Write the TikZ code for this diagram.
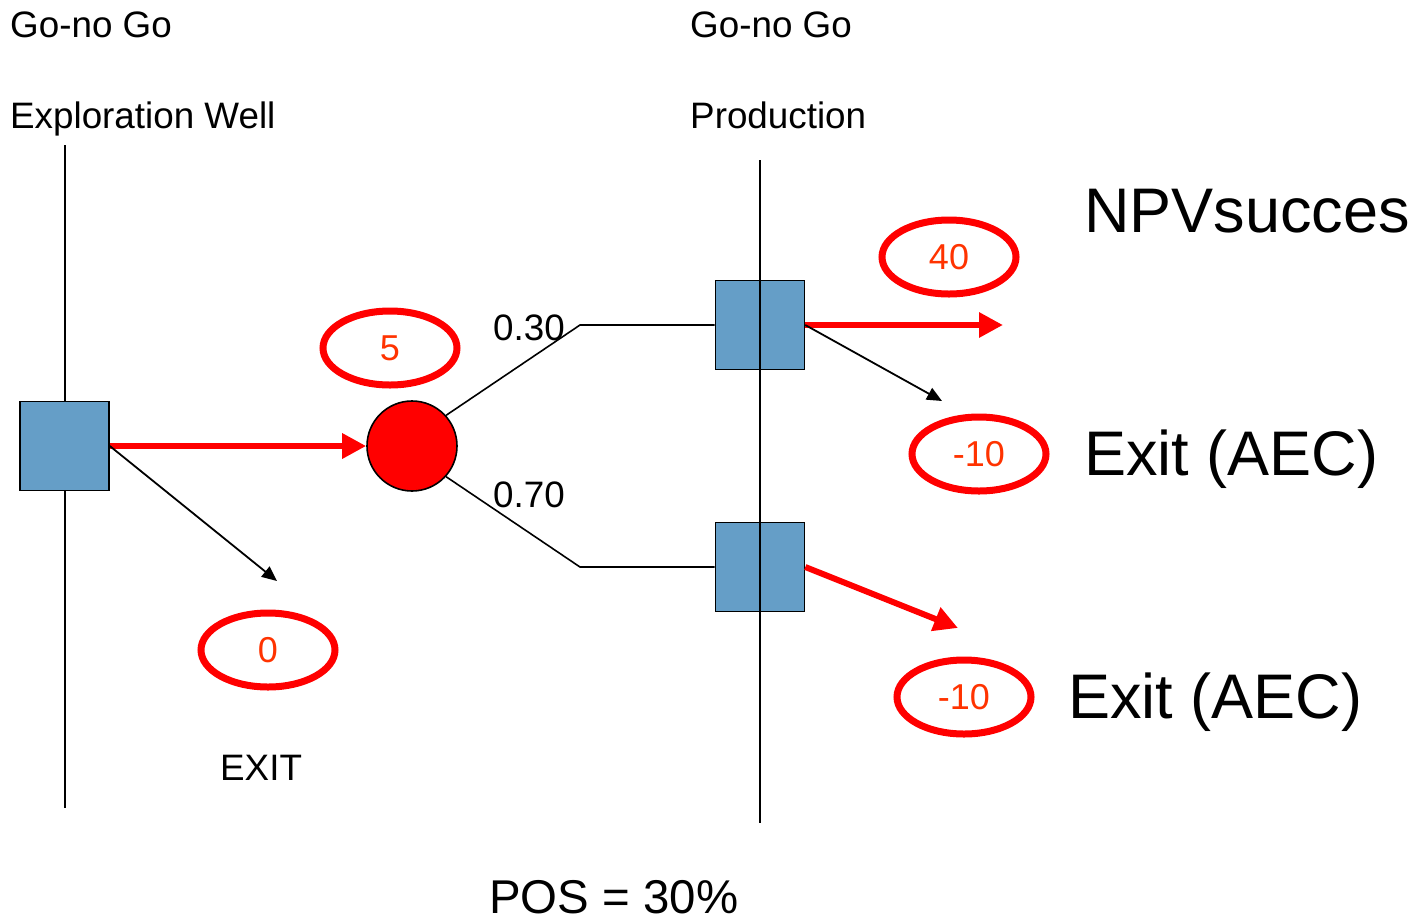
\documentclass[tikz,border=0pt]{standalone}
\usepackage{fontspec}
\setmainfont{Liberation Sans}
\usetikzlibrary{arrows.meta,shapes.geometric}
\definecolor{boxblue}{RGB}{101,158,199}
\definecolor{valred}{RGB}{255,51,0}
\tikzset{
  decbox/.style={draw=black,line width=1.6pt,fill=boxblue,minimum width=89pt,minimum height=89pt,inner sep=0pt},
  chance/.style={circle,draw=black,line width=1.6pt,fill=red,minimum size=90pt,inner sep=0pt},
  valell/.style={ellipse,draw=red,line width=7pt,minimum width=134pt,minimum height=74pt,inner sep=0pt,text=valred,font=\fontsize{36}{40}\selectfont},
  lbl/.style={anchor=base west,inner sep=0pt,font=\fontsize{36.8}{44}\selectfont},
  biglbl/.style={anchor=base west,inner sep=0pt,font=\fontsize{63}{72}\selectfont},
  redarrow/.style={draw=red,line width=6pt,-{Triangle[length=24pt,width=24pt]}},
  blackarrow/.style={draw=black,line width=1.8pt,-{Triangle[length=15pt,width=13pt]}},
  thin/.style={draw=black,line width=1.6pt}
}
\begin{document}
\begin{tikzpicture}[x=1pt,y=-1pt]
\useasboundingbox (0,0) rectangle (1422,922);
% titles
\node[lbl] (t1) at (10,37) {Go-no Go};
\node[lbl] (t2) at (10,128) {Exploration Well};
\node[lbl] (t3) at (690,37) {Go-no Go};
\node[lbl] (t4) at (690,128) {Production};
% left vertical line
\coordinate (lv1) at (65,145);
\coordinate (lv2) at (65,808);
\draw[thin] (lv1) -- (lv2);
% nodes
\node[decbox] (lb) at (64.5,446) {};
\node[chance] (c) at (412,446) {};
\node[decbox] (tr) at (760,325) {};
\node[decbox] (br) at (760,567) {};
% right vertical line (in front of boxes)
\coordinate (rv1) at (760,160);
\coordinate (rv2) at (760,823);
\draw[thin] (rv1) -- (rv2);
% branches
\coordinate (k1) at (580,325);
\coordinate (k2) at (580,567);
\draw[thin] (c.42) -- (k1) -- (tr.west);
\draw[thin] (c.-42) -- (k2) -- (br.west);
\node[lbl] (p1) at (493,340) {0.30};
\node[lbl] (p2) at (493,507) {0.70};
% arrows
\draw[redarrow] (lb.east) -- (c.west);
\coordinate (e0) at (277,581);
\draw[blackarrow] (lb.east) -- (e0);
\coordinate (e1) at (1003,325);
\draw[redarrow] (tr.east) -- (e1);
\coordinate (e2) at (942,401);
\draw[blackarrow] (tr.east) -- (e2);
\coordinate (e3) at (958,628);
\draw[redarrow] (br.east) -- (e3);
% value ellipses
\node[valell] (v5) at (390,348) {5};
\node[valell] (v40) at (949,257) {40};
\node[valell] (vm1) at (979,454) {-10};
\node[valell] (v0) at (268,650) {0};
\node[valell] (vm2) at (964,697) {-10};
% outcome labels
\node[biglbl] (npv) at (1084,232) {NPVsucces};
\node[biglbl] (ex1) at (1084,475) {Exit (AEC)};
\node[biglbl] (ex2) at (1068,718) {Exit (AEC)};
\node[lbl] (exit) at (220,780) {EXIT};
\node[anchor=base west,inner sep=0pt,font=\fontsize{47.4}{56}\selectfont] (pos) at (489,913) {POS = 30\%};
\end{tikzpicture}
\end{document}
